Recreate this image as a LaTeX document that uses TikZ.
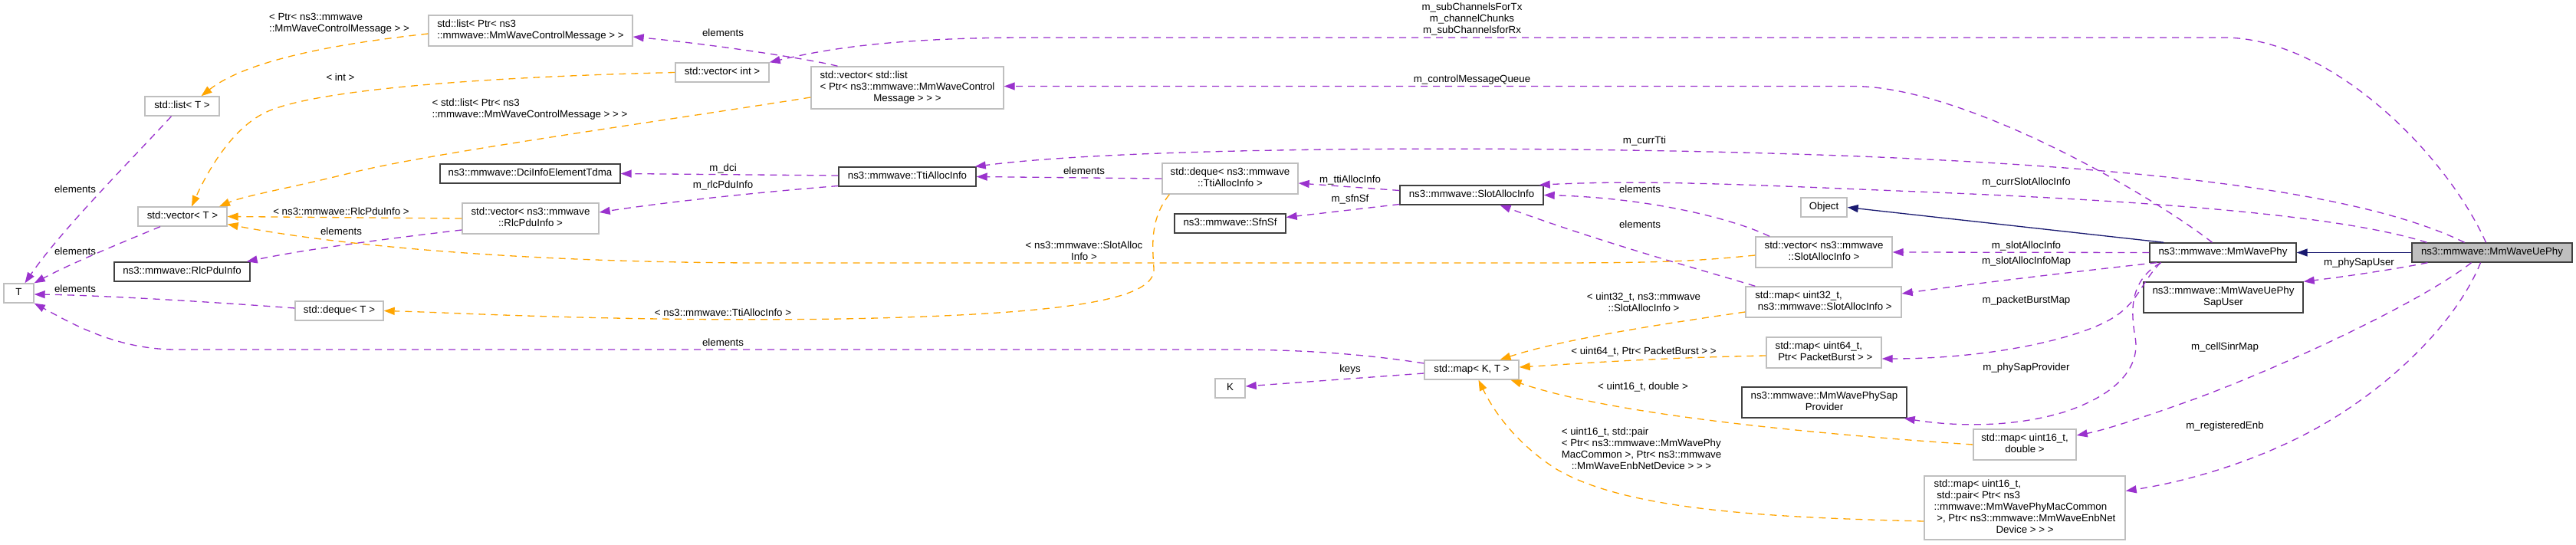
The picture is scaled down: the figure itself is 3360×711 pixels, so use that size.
\documentclass[tikz,border=0pt]{standalone}
\usepackage{fontspec}
\setmainfont{Liberation Sans}
\usetikzlibrary{arrows.meta}
\definecolor{pur}{HTML}{9A32CD}
\definecolor{org}{HTML}{FFA500}
\definecolor{navyc}{HTML}{191970}
\definecolor{ngrey}{HTML}{BFBFBF}
\definecolor{ndark}{HTML}{404040}
\newcommand\dxl[1]{\begin{tabular}{@{}l@{}}#1\end{tabular}}
\newcommand\dxc[1]{\begin{tabular}{@{}c@{}}#1\end{tabular}}
\newcommand\lastc[1]{\multicolumn{1}{@{}c@{}}{#1}}
\newcommand\dfont{\fontsize{13.3}{15}\selectfont}
\begin{document}
\begin{tikzpicture}[x=1pt,y=-1pt,
  box/.style={rectangle, inner sep=0pt, line width=1.4pt, font=\dfont},
  gbox/.style={box, draw=ngrey, fill=white},
  dbox/.style={box, draw=ndark, fill=white},
  ubox/.style={box, draw=ndark, fill=ngrey},
  lab/.style={inner sep=0pt, font=\dfont},
  tip/.style={-{Triangle[length=14pt,width=10pt]}},
  pe/.style={draw=pur, line width=1.3pt, dash pattern=on 9pt off 7pt, tip, pur},
  oe/.style={draw=org, line width=1.3pt, dash pattern=on 9pt off 7pt, tip, org},
  ie/.style={draw=navyc, line width=1.3pt, tip, navyc}]
\fill[white] (0,0) rectangle (3360,711);
\useasboundingbox (0,0) rectangle (3360,711);

% nodes
\node[gbox, minimum width=97, minimum height=25] (listT) at (237.5,138.5) {\dxl{std::list< T >}};
\node[gbox, minimum width=116, minimum height=25] (vecT) at (238,282.5) {\dxl{std::vector< T >}};
\node[dbox, minimum width=177, minimum height=25] (rlc) at (237.5,354.5) {\dxl{ns3::mmwave::RlcPduInfo}};
\node[gbox, minimum width=39, minimum height=25] (T) at (24.5,382.5) {\dxl{T}};
\node[gbox, minimum width=115, minimum height=25] (dequeT) at (442.5,405.5) {\dxl{std::deque< T >}};
\node[gbox, minimum width=266, minimum height=40] (listPtr) at (692,40) {\dxl{std::list< Ptr< ns3\\\lastc{::mmwave::MmWaveControlMessage > >}}};
\node[gbox, minimum width=122, minimum height=25] (vecInt) at (942,94.5) {\dxl{std::vector< int >}};
\node[gbox, minimum width=251, minimum height=55] (vecList) at (1183.5,114.5) {\dxl{std::vector< std::list\\< Ptr< ns3::mmwave::MmWaveControl\\\lastc{Message > > >}}};
\node[dbox, minimum width=235, minimum height=25] (dci) at (691.5,226.5) {\dxl{ns3::mmwave::DciInfoElementTdma}};
\node[gbox, minimum width=178, minimum height=40] (vecRlc) at (692,285) {\dxl{std::vector< ns3::mmwave\\\lastc{::RlcPduInfo >}}};
\node[dbox, minimum width=179, minimum height=25] (tti) at (1183.5,230.5) {\dxl{ns3::mmwave::TtiAllocInfo}};
\node[gbox, minimum width=177, minimum height=40] (dequeTti) at (1604.5,233) {\dxl{std::deque< ns3::mmwave\\\lastc{::TtiAllocInfo >}}};
\node[dbox, minimum width=145, minimum height=25] (sfn) at (1604.5,291.5) {\dxl{ns3::mmwave::SfnSf}};
\node[dbox, minimum width=187, minimum height=25] (slot) at (1919.5,254.5) {\dxl{ns3::mmwave::SlotAllocInfo}};
\node[gbox, minimum width=60, minimum height=25] (object) at (2379,270.5) {\dxl{Object}};
\node[gbox, minimum width=178, minimum height=40] (vecSlot) at (2379,329) {\dxl{std::vector< ns3::mmwave\\\lastc{::SlotAllocInfo >}}};
\node[dbox, minimum width=191, minimum height=25] (phy) at (2899.5,329.5) {\dxl{ns3::mmwave::MmWavePhy}};
\node[ubox, minimum width=209, minimum height=25] (uephy) at (3250.5,329.5) {\dxl{ns3::mmwave::MmWaveUePhy}};
\node[dbox, minimum width=208, minimum height=40] (sapUser) at (2900,388) {\dxl{ns3::mmwave::MmWaveUePhy\\\lastc{SapUser}}};
\node[gbox, minimum width=203, minimum height=40] (map32) at (2378.5,394) {\dxl{std::map< uint32\_t,\\\lastc{\ ns3::mmwave::SlotAllocInfo >}}};
\node[gbox, minimum width=150, minimum height=40] (map64) at (2379,460) {\dxl{std::map< uint64\_t,\\\lastc{\ Ptr< PacketBurst > >}}};
\node[dbox, minimum width=215, minimum height=40] (sapProv) at (2379.5,525) {\dxl{ns3::mmwave::MmWavePhySap\\\lastc{Provider}}};
\node[gbox, minimum width=134, minimum height=40] (map16d) at (2641,580) {\dxl{std::map< uint16\_t,\\\lastc{double >}}};
\node[gbox, minimum width=262, minimum height=83] (mapPair) at (2641,662.5) {\dxl{std::map< uint16\_t,\\\ std::pair< Ptr< ns3\\::mmwave::MmWavePhyMacCommon\\\ >, Ptr< ns3::mmwave::MmWaveEnbNet\\\lastc{Device > > >}}};
\node[gbox, minimum width=123, minimum height=25] (mapKT) at (1919.5,482.5) {\dxl{std::map< K, T >}};
\node[gbox, minimum width=39, minimum height=25] (K) at (1604.5,506.5) {\dxl{K}};

% inheritance
\draw[ie] (uephy.west) -- (phy.east);
\draw[ie] ([xshift=19pt]phy.north west) -- (object.east);

% usage (purple)
\draw[pe] ([xshift=-8pt]uephy.north) .. controls (3190,200) and (3040,49) .. (2900,49) -- (1330,49) .. controls (1150,50) and (1070,66) .. (vecInt.north east);
\draw[pe] ([xshift=-14pt]phy.north) .. controls (2800,250) and (2560,112.5) .. (2417,112.5) -- ([yshift=2pt]vecList.east);
\draw[pe] ([xshift=-36pt]uephy.north) .. controls (3080,250) and (2800,220) .. (2450,205) .. controls (2100,190) and (1500,188) .. ([xshift=-2pt]tti.north east);
\draw[pe] ([xshift=-85pt]uephy.north) .. controls (3050,280) and (2800,262) .. (2500,250) .. controls (2300,242) and (2150,234) .. ([xshift=-6pt]slot.north east);
\draw[pe] (phy.west) -- (vecSlot.east);
\draw[pe] ([xshift=10pt]phy.south west) .. controls (2700,355) and (2560,372) .. ([yshift=11pt]map32.east);
\draw[pe] ([xshift=15pt]phy.south west) .. controls (2795,365) and (2790,392) .. (2760,412) .. controls (2720,440) and (2600,468) .. ([yshift=-8pt]map64.east);
\draw[pe] ([xshift=15pt]phy.south west) .. controls (2780,365) and (2778,400) .. (2785,440) .. controls (2792,480) and (2760,515) .. (2694,537) .. controls (2620,560) and (2540,555) .. ([xshift=-4pt]sapProv.south east);
\draw[pe] ([xshift=-84pt]uephy.south) .. controls (3120,352) and (3050,362) .. (sapUser.north east);
\draw[pe] ([xshift=-27pt]uephy.south) .. controls (3150,400) and (2950,490) .. (2850,525) .. controls (2780,550) and (2740,562) .. ([yshift=12pt]map16d.east);
\draw[pe] ([xshift=-15pt]uephy.south) .. controls (3200,430) and (3100,520) .. (3000,570) .. controls (2920,610) and (2840,630) .. ([yshift=22pt]mapPair.east);
\draw[pe] ([yshift=6pt]slot.west) -- ([yshift=-6pt]dequeTti.east);
\draw[pe] ([yshift=-12pt]slot.west) -- ([yshift=8pt]sfn.east);
\draw[pe] ([xshift=-71pt]vecSlot.north) .. controls (2260,285) and (2150,258) .. (slot.east);
\draw[pe] ([xshift=13pt]map32.north west) .. controls (2230,355) and (2100,320) .. ([xshift=37pt]slot.south);
\draw[pe] (dequeTti.west) -- (tti.east);
\draw[pe] ([yshift=1.5pt]tti.west) -- (dci.east);
\draw[pe] ([yshift=-12pt]tti.west) .. controls (1000,250) and (880,262) .. ([yshift=8pt]vecRlc.east);
\draw[pe] ([yshift=-15pt]vecRlc.west) .. controls (500,312) and (400,325) .. ([xshift=-5pt]rlc.north east);
\draw[pe] ([xshift=-91pt]vecList.north) .. controls (1070,80) and (950,60) .. ([yshift=-8pt]listPtr.east);
\draw[pe] ([xshift=-14pt]listT.south) .. controls (170,210) and (80,300) .. ([xshift=8pt]T.north);
\draw[pe] ([xshift=-29pt]vecT.south) .. controls (150,320) and (90,345) .. (T.north east);
\draw[pe] ([yshift=3.5pt]dequeT.west) .. controls (250,392) and (120,385) .. ([yshift=-1.5pt]T.east);
\draw[pe] ([yshift=8.5pt]mapKT.west) .. controls (1780,462) and (1700,456) .. (1600,456) -- (230,456) .. controls (150,456) and (90,420) .. (T.south east);
\draw[pe] ([yshift=-4.5pt]mapKT.west) -- ([yshift=2.5pt]K.east);

% template instances (orange)
\draw[oe] (vecRlc.west) -- (vecT.east);
\draw[oe] ([yshift=-4pt]vecSlot.west) .. controls (2200,342) and (2150,343) .. (2000,343) -- (1000,343) .. controls (700,343) and (450,322) .. ([yshift=-10pt]vecT.east);
\draw[oe] ([xshift=10pt]dequeTti.south west) .. controls (1500,285) and (1503,320) .. (1505,350) .. controls (1508,390) and (1400,410) .. (1100,416) .. controls (800,420) and (600,408) .. (dequeT.east);
\draw[oe] ([yshift=-12.5pt]vecList.west) .. controls (850,160) and (560,200) .. (460,225) .. controls (380,245) and (320,255) .. ([xshift=48pt]vecT.north);
\draw[oe] (vecInt.west) .. controls (650,100) and (420,115) .. (350,145) .. controls (303,165) and (270,225) .. ([xshift=12pt]vecT.north);
\draw[oe] ([yshift=-4pt]listPtr.west) .. controls (430,58) and (320,80) .. ([xshift=25pt]listT.north);
\draw[oe] ([yshift=-13pt]map32.west) .. controls (2150,425) and (2030,445) .. ([xshift=37pt]mapKT.north);
\draw[oe] ([yshift=-4pt]map64.west) .. controls (2150,467) and (2050,475) .. ([yshift=3.5pt]mapKT.east);
\draw[oe] (map16d.west) .. controls (2350,565) and (2100,540) .. ([xshift=51pt]mapKT.south);
\draw[oe] ([yshift=-17.5pt]mapPair.west) .. controls (2300,675) and (2120,665) .. (2030,612) .. controls (1980,580) and (1950,540) .. ([xshift=9pt]mapKT.south);

% labels
\node[lab] (l1) at (98,247) {elements};
\node[lab] (l2) at (98,328) {elements};
\node[lab] (l3) at (98,377) {elements};
\node[lab] (l4) at (442.5,31) {\dxl{< Ptr< ns3::mmwave\\\lastc{::MmWaveControlMessage > >}}};
\node[lab] (l5) at (444,101) {< int >};
\node[lab] (l6) at (691,143.5) {\dxl{< std::list< Ptr< ns3\\\lastc{::mmwave::MmWaveControlMessage > > >}}};
\node[lab] (l7) at (445,276) {< ns3::mmwave::RlcPduInfo >};
\node[lab] (l8) at (445,302) {elements};
\node[lab] (l9) at (943,43) {elements};
\node[lab] (l10) at (943,220) {m\_dci};
\node[lab] (l11) at (943,242) {m\_rlcPduInfo};
\node[lab] (l12) at (943,408) {< ns3::mmwave::TtiAllocInfo >};
\node[lab] (l13) at (943,447) {elements};
\node[lab] (l14) at (1414,223) {elements};
\node[lab] (l15) at (1414,328.5) {\dxl{< ns3::mmwave::SlotAlloc\\\lastc{Info >}}};
\node[lab] (l16) at (1761,482) {keys};
\node[lab] (l17) at (1761,235) {m\_ttiAllocInfo};
\node[lab] (l18) at (1761,260) {m\_sfnSf};
\node[lab] (l19) at (1920,26) {\dxc{m\_subChannelsForTx\\m\_channelChunks\\m\_subChannelsforRx}};
\node[lab] (l20) at (1920,104) {m\_controlMessageQueue};
\node[lab] (l21) at (2145,184) {m\_currTti};
\node[lab] (l22) at (2139,247) {elements};
\node[lab] (l23) at (2139,293) {elements};
\node[lab] (l24) at (2144,396) {\dxl{< uint32\_t, ns3::mmwave\\\lastc{::SlotAllocInfo >}}};
\node[lab] (l25) at (2144,459) {< uint64\_t, Ptr< PacketBurst > >};
\node[lab] (l26) at (2143,505) {< uint16\_t, double >};
\node[lab] (l27) at (2141,587) {\dxl{< uint16\_t, std::pair\\< Ptr< ns3::mmwave::MmWavePhy\\MacCommon >, Ptr< ns3::mmwave\\\lastc{::MmWaveEnbNetDevice > > >}}};
\node[lab] (l28) at (2643,238) {m\_currSlotAllocInfo};
\node[lab] (l29) at (2643,321) {m\_slotAllocInfo};
\node[lab] (l30) at (2643,341) {m\_slotAllocInfoMap};
\node[lab] (l31) at (2643,392) {m\_packetBurstMap};
\node[lab] (l32) at (2643,480) {m\_phySapProvider};
\node[lab] (l33) at (3077,343) {m\_phySapUser};
\node[lab] (l34) at (2902,453) {m\_cellSinrMap};
\node[lab] (l35) at (2902,556) {m\_registeredEnb};
\end{tikzpicture}
\end{document}
